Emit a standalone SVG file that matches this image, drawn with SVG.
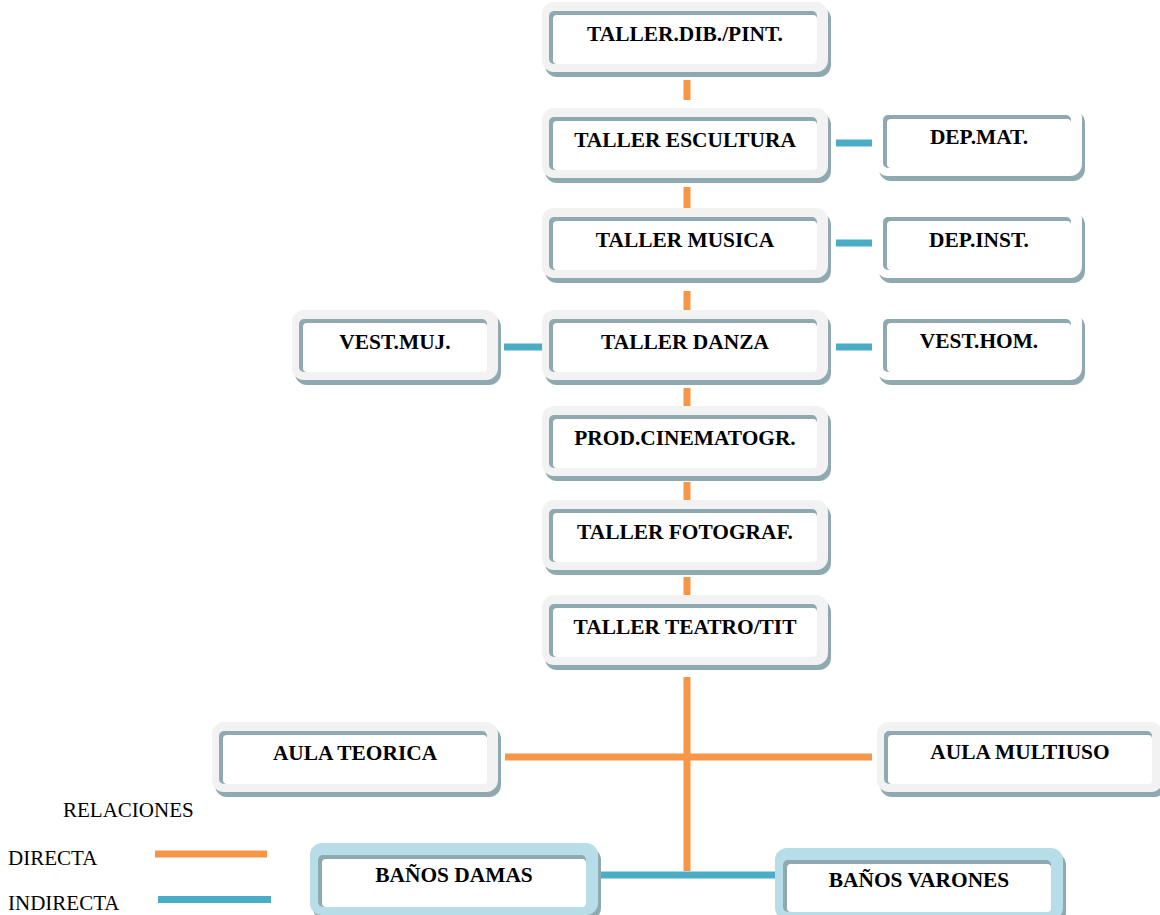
<svg xmlns="http://www.w3.org/2000/svg" width="1160" height="915" viewBox="0 0 1160 915">
<style>
.sh{fill:#8fa9b0}
.out{fill:#f2f2f2}
.outw{fill:#ffffff}
.outb{fill:#b7dde8}
.edge{fill:#8fa9b0}
.in{fill:#ffffff}
.lbl{font-family:"Liberation Serif","Times New Roman",serif;font-weight:bold;font-size:21.4px;fill:#000;text-anchor:middle}
.leg{font-family:"Liberation Serif","Times New Roman",serif;font-size:21px;fill:#000}
.dir{stroke:#f79646;stroke-width:7;fill:none}
.ind{stroke:#4bacc6;stroke-width:7;fill:none}
</style>
<g id="connectors">
<line class="dir" x1="687" y1="80" x2="687" y2="100"/>
<line class="dir" x1="687" y1="187" x2="687" y2="208"/>
<line class="dir" x1="687" y1="291" x2="687" y2="313"/>
<line class="dir" x1="687" y1="388" x2="687" y2="408"/>
<line class="dir" x1="687" y1="482" x2="687" y2="503"/>
<line class="dir" x1="687" y1="577" x2="687" y2="597"/>
<line class="dir" x1="687" y1="677" x2="687" y2="871"/>
<line class="dir" x1="505" y1="757" x2="872" y2="757"/>
<line class="ind" x1="836" y1="143" x2="872" y2="143"/>
<line class="ind" x1="836" y1="243" x2="872" y2="243"/>
<line class="ind" x1="836" y1="347" x2="872" y2="347"/>
<line class="ind" x1="504" y1="347" x2="542" y2="347"/>
<line class="ind" x1="598" y1="875" x2="775" y2="875"/>
</g>
<g id="n-dib" transform="translate(542,2)">
<rect class="sh" x="3" y="5" width="286" height="70" rx="12"/><rect class="out" width="286" height="70" rx="12"/>
<rect class="edge" x="7" y="9" width="268" height="53" rx="5"/><rect class="in" x="11" y="13" width="264" height="49" rx="4"/>
<text class="lbl" x="143" y="39">TALLER.DIB./PINT.</text></g>
<g id="n-escultura" transform="translate(542,108)">
<rect class="sh" x="3" y="5" width="286" height="70" rx="12"/><rect class="out" width="286" height="70" rx="12"/>
<rect class="edge" x="7" y="9" width="268" height="53" rx="5"/><rect class="in" x="11" y="13" width="264" height="49" rx="4"/>
<text class="lbl" x="143" y="39">TALLER ESCULTURA</text></g>
<g id="n-musica" transform="translate(542,208)">
<rect class="sh" x="3" y="5" width="286" height="70" rx="12"/><rect class="out" width="286" height="70" rx="12"/>
<rect class="edge" x="7" y="9" width="268" height="53" rx="5"/><rect class="in" x="11" y="13" width="264" height="49" rx="4"/>
<text class="lbl" x="143" y="39">TALLER MUSICA</text></g>
<g id="n-danza" transform="translate(542,310)">
<rect class="sh" x="3" y="5" width="286" height="70" rx="12"/><rect class="out" width="286" height="70" rx="12"/>
<rect class="edge" x="7" y="9" width="268" height="53" rx="5"/><rect class="in" x="11" y="13" width="264" height="49" rx="4"/>
<text class="lbl" x="143" y="39">TALLER DANZA</text></g>
<g id="n-cine" transform="translate(542,406)">
<rect class="sh" x="3" y="5" width="286" height="70" rx="12"/><rect class="out" width="286" height="70" rx="12"/>
<rect class="edge" x="7" y="9" width="268" height="53" rx="5"/><rect class="in" x="11" y="13" width="264" height="49" rx="4"/>
<text class="lbl" x="143" y="39">PROD.CINEMATOGR.</text></g>
<g id="n-foto" transform="translate(542,500)">
<rect class="sh" x="3" y="5" width="286" height="70" rx="12"/><rect class="out" width="286" height="70" rx="12"/>
<rect class="edge" x="7" y="9" width="268" height="53" rx="5"/><rect class="in" x="11" y="13" width="264" height="49" rx="4"/>
<text class="lbl" x="143" y="39">TALLER FOTOGRAF.</text></g>
<g id="n-teatro" transform="translate(542,595)">
<rect class="sh" x="3" y="5" width="286" height="70" rx="12"/><rect class="out" width="286" height="70" rx="12"/>
<rect class="edge" x="7" y="9" width="268" height="53" rx="5"/><rect class="in" x="11" y="13" width="264" height="49" rx="4"/>
<text class="lbl" x="143" y="39">TALLER TEATRO/TIT</text></g>
<g id="n-depmat" transform="translate(876,106)">
<rect class="sh" x="3" y="5" width="206" height="70" rx="12"/><rect class="outw" width="206" height="70" rx="12"/>
<rect class="edge" x="7" y="9" width="188" height="53" rx="5"/><rect class="in" x="11" y="13" width="184" height="49" rx="4"/>
<text class="lbl" x="103" y="38">DEP.MAT.</text></g>
<g id="n-depinst" transform="translate(876,208)">
<rect class="sh" x="3" y="5" width="206" height="70" rx="12"/><rect class="outw" width="206" height="70" rx="12"/>
<rect class="edge" x="7" y="9" width="188" height="53" rx="5"/><rect class="in" x="11" y="13" width="184" height="49" rx="4"/>
<text class="lbl" x="103" y="39">DEP.INST.</text></g>
<g id="n-vesthom" transform="translate(876,310)">
<rect class="sh" x="3" y="5" width="206" height="70" rx="12"/><rect class="outw" width="206" height="70" rx="12"/>
<rect class="edge" x="7" y="9" width="188" height="53" rx="5"/><rect class="in" x="11" y="13" width="184" height="49" rx="4"/>
<text class="lbl" x="103" y="38">VEST.HOM.</text></g>
<g id="n-vestmuj" transform="translate(292,310)">
<rect class="sh" x="3" y="5" width="206" height="70" rx="12"/><rect class="out" width="206" height="70" rx="12"/>
<rect class="edge" x="7" y="9" width="188" height="53" rx="5"/><rect class="in" x="11" y="13" width="184" height="49" rx="4"/>
<text class="lbl" x="103" y="39">VEST.MUJ.</text></g>
<g id="n-aulateo" transform="translate(212,722)">
<rect class="sh" x="3" y="5" width="286" height="70" rx="12"/><rect class="out" width="286" height="70" rx="12"/>
<rect class="edge" x="7" y="9" width="268" height="53" rx="5"/><rect class="in" x="11" y="13" width="264" height="49" rx="4"/>
<text class="lbl" x="143" y="38">AULA TEORICA</text></g>
<g id="n-aulamulti" transform="translate(877,722)">
<rect class="sh" x="3" y="5" width="286" height="70" rx="12"/><rect class="out" width="286" height="70" rx="12"/>
<rect class="edge" x="7" y="9" width="268" height="53" rx="5"/><rect class="in" x="11" y="13" width="264" height="49" rx="4"/>
<text class="lbl" x="143" y="37">AULA MULTIUSO</text></g>
<g id="n-banosdamas" transform="translate(310,843)">
<rect class="sh" x="3" y="5" width="288" height="72" rx="12"/><rect class="outb" width="288" height="72" rx="12"/>
<rect class="edge" x="8" y="12" width="268" height="52" rx="5"/><rect class="in" x="12" y="16" width="264" height="48" rx="4"/>
<text class="lbl" x="144" y="39">BAÑOS DAMAS</text></g>
<g id="n-banosvarones" transform="translate(775,848)">
<rect class="sh" x="3" y="5" width="288" height="72" rx="12"/><rect class="outb" width="288" height="72" rx="12"/>
<rect class="edge" x="8" y="12" width="268" height="52" rx="5"/><rect class="in" x="12" y="16" width="264" height="48" rx="4"/>
<text class="lbl" x="144" y="39">BAÑOS VARONES</text></g>
<g id="legend">
<text class="leg" x="63" y="817">RELACIONES</text>
<text class="leg" x="8" y="865">DIRECTA</text>
<text class="leg" x="8" y="910">INDIRECTA</text>
<line class="dir" x1="155" y1="854" x2="267" y2="854"/>
<line class="ind" x1="158" y1="899.5" x2="271" y2="899.5"/>
</g>
</svg>
